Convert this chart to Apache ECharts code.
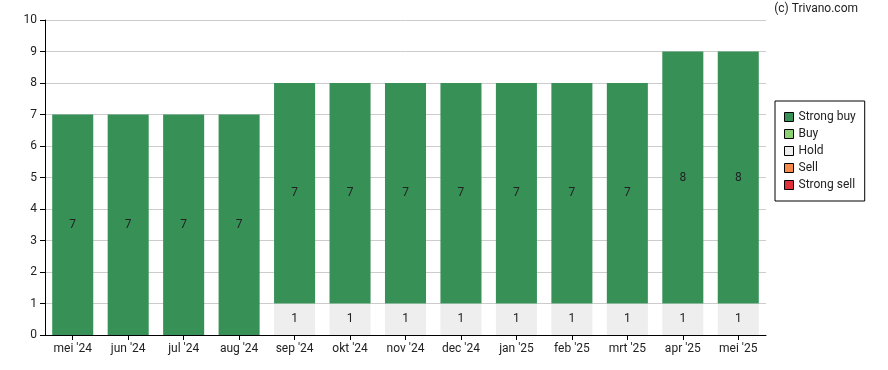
<!DOCTYPE html>
<html><head><meta charset="utf-8">
<script src="https://cdn.jsdelivr.net/npm/echarts@6/dist/echarts.min.js"></script>
<style>html,body{margin:0;padding:0;background:#fff}#c{width:888px;height:370px}</style>
</head><body><div id="c"></div>
<script>
const categories = ["mei '24","jun '24","jul '24","aug '24","sep '24","okt '24","nov '24","dec '24","jan '25","feb '25","mrt '25","apr '25","mei '25"];
const strongBuy = [7,7,7,7,7,7,7,7,7,7,7,8,8];
const buy = [0,0,0,0,0,0,0,0,0,0,0,0,0];
const hold = [0,0,0,0,1,1,1,1,1,1,1,1,1];
const sell = [0,0,0,0,0,0,0,0,0,0,0,0,0];
const strongSell = [0,0,0,0,0,0,0,0,0,0,0,0,0];
const yTicks = [0,1,2,3,4,5,6,7,8,9,10];

const font = 'Roboto, "Liberation Sans", sans-serif';
function mk(name, data, color) {
  return {
    name, type: 'bar', stack: 'a', data, barCategoryGap: '26%',
    itemStyle: { color },
    label: { show: true, position: 'inside', color: '#222', fontFamily: font, fontSize: 12,
      formatter: p => p.value ? String(p.value) : '' },
    emphasis: { disabled: true }
  };
}
const chart = echarts.init(document.getElementById('c'));
chart.setOption({
  animation: false,
  textStyle: { fontFamily: font },
  graphic: [{ type: 'text', right: 30, top: 3, style: { text: '(c) Trivano.com', fill: '#222', font: '12px ' + font } }],
  grid: { left: 45, right: 122, top: 20, bottom: 35 },
  legend: {
    orient: 'vertical', left: 775, top: 101,
    data: ['Strong buy','Buy','Hold','Sell','Strong sell'],
    icon: 'rect', itemWidth: 9, itemHeight: 9, itemGap: 5,
    padding: [10, 9, 10, 9], borderColor: '#000', borderWidth: 1,
    textStyle: { color: '#222', fontSize: 12, fontFamily: font },
    itemStyle: { borderColor: '#000', borderWidth: 1 }
  },
  xAxis: {
    type: 'category', data: categories,
    axisLine: { lineStyle: { color: '#000' } },
    axisTick: { show: true, alignWithLabel: true, lineStyle: { color: '#000' }, length: 5 },
    axisLabel: { color: '#222', fontSize: 12, fontFamily: font, margin: 8 }
  },
  yAxis: {
    type: 'value', min: 0, max: 10, interval: 1,
    axisLine: { show: true, lineStyle: { color: '#000' } },
    axisTick: { show: true, length: 5, lineStyle: { color: '#000' } },
    axisLabel: { color: '#222', fontSize: 12, fontFamily: font, margin: 8,
      formatter: v => yTicks.includes(v) ? String(v) : '' },
    splitLine: { lineStyle: { color: '#cccccc' } }
  },
  series: [
    mk('Strong sell', strongSell, '#e0303c'),
    mk('Sell', sell, '#f58a4b'),
    mk('Hold', hold, '#eeeeee'),
    mk('Buy', buy, '#8cd170'),
    mk('Strong buy', strongBuy, '#379157')
  ]
});
</script></body></html>
